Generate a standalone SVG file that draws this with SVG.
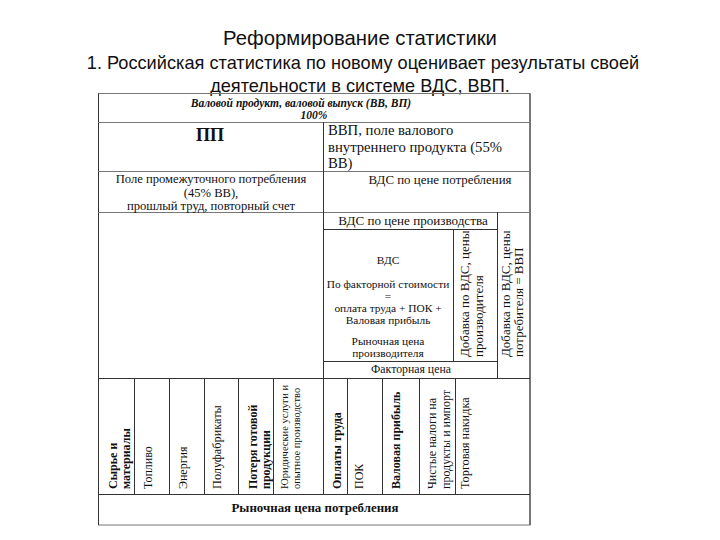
<svg xmlns="http://www.w3.org/2000/svg" width="720" height="540" viewBox="0 0 720 540">
<style>
.t{font-family:"Liberation Sans",Arial,sans-serif;fill:#111}
.s{font-family:"Liberation Serif","Times New Roman",serif;fill:#111}
.b{font-weight:bold}
.i{font-style:italic}
.m{text-anchor:middle}
.h{stroke:#777;stroke-width:1;fill:none}
.v{stroke:#333;stroke-width:1;fill:none}
</style>
<rect width="720" height="540" fill="#fff"/>
<g id="title">
<text class="t m" x="360" y="45" font-size="20.3">Реформирование статистики</text>
<text class="t m" x="363" y="69" font-size="18.2">1. Российская статистика по новому оценивает результаты своей</text>
<text class="t m" x="360" y="92" font-size="18.2">деятельности в системе ВДС, ВВП.</text>
</g>
<g id="grid">
<rect x="98.5" y="93.5" width="431.5" height="431.5" class="h"/>
<line x1="98.5" y1="93.5" x2="98.5" y2="525" class="v"/>
<line x1="530" y1="93.5" x2="530" y2="525" class="v"/>
<line x1="98" y1="122.5" x2="530" y2="122.5" class="h"/>
<line x1="98" y1="171.5" x2="530" y2="171.5" class="h"/>
<line x1="98" y1="212.5" x2="530" y2="212.5" class="h"/>
<line x1="323" y1="229.5" x2="497" y2="229.5" class="v"/>
<line x1="323" y1="361.5" x2="497" y2="361.5" class="v"/>
<line x1="98" y1="378.5" x2="530" y2="378.5" class="v"/>
<line x1="98" y1="494.5" x2="530" y2="494.5" class="v"/>
<line x1="323.5" y1="122" x2="323.5" y2="494" class="v"/>
<line x1="497.5" y1="212" x2="497.5" y2="378" class="v"/>
<line x1="453.5" y1="229" x2="453.5" y2="361" class="v"/>
<line x1="134.5" y1="378" x2="134.5" y2="494" class="v"/>
<line x1="169.5" y1="378" x2="169.5" y2="494" class="v"/>
<line x1="204.5" y1="378" x2="204.5" y2="494" class="v"/>
<line x1="238.5" y1="378" x2="238.5" y2="494" class="v"/>
<line x1="273.5" y1="378" x2="273.5" y2="494" class="v"/>
<line x1="347.5" y1="378" x2="347.5" y2="494" class="v"/>
<line x1="382.5" y1="378" x2="382.5" y2="494" class="v"/>
<line x1="419.5" y1="378" x2="419.5" y2="494" class="v"/>
<line x1="455.5" y1="378" x2="455.5" y2="494" class="v"/>
</g>
<g id="header">
<text class="s b i m" x="301" y="107" font-size="11.5">Валовой продукт, валовой выпуск (ВВ, ВП)</text>
<text class="s b i m" x="314" y="119" font-size="11.5">100%</text>
</g>
<g id="pp"><text class="s b m" x="210" y="141" font-size="18">ПП</text></g>
<g id="vvp">
<text class="s" x="328" y="135" font-size="14.7">ВВП, поле валового</text>
<text class="s" x="328" y="152" font-size="14.7">внутреннего продукта (55%</text>
<text class="s" x="328" y="168" font-size="14.7">ВВ)</text>
</g>
<g id="pole">
<text class="s m" x="211" y="183" font-size="12.6">Поле  промежуточного потребления</text>
<text class="s m" x="211" y="196.5" font-size="12.6">(45% ВВ),</text>
<text class="s m" x="211" y="210" font-size="12.6">прошлый труд, повторный счет</text>
</g>
<g id="vds-potr"><text class="s m" x="440" y="184" font-size="12.9">ВДС по цене потребления</text></g>
<g id="vds-proizv"><text class="s m" x="413" y="225" font-size="13.1">ВДС по цене производства</text></g>
<g id="vds">
<text class="s m" x="388" y="264" font-size="11.4">ВДС</text>
<text class="s m" x="388" y="288" font-size="11.4">По факторной стоимости</text>
<text class="s m" x="388" y="300" font-size="11.4">=</text>
<text class="s m" x="388" y="312" font-size="11.4">оплата труда + ПОК +</text>
<text class="s m" x="388" y="324" font-size="11.4">Валовая прибыль</text>
<text class="s m" x="388" y="345" font-size="11.4">Рыночная цена</text>
<text class="s m" x="388" y="357" font-size="11.4">производителя</text>
</g>
<g id="dobavka1">
<text class="s" font-size="13" transform="translate(469,357) rotate(-90)">Добавка по ВДС, цены</text>
<text class="s" font-size="13" transform="translate(483,357) rotate(-90)">производителя</text>
</g>
<g id="dobavka2">
<text class="s" font-size="13" transform="translate(510,357) rotate(-90)">Добавка по ВДС, цены</text>
<text class="s" font-size="13" transform="translate(523,357) rotate(-90)">потребителя = ВВП</text>
</g>
<g id="faktor"><text class="s m" x="411" y="373" font-size="11.8">Факторная цена</text></g>
<g id="c1"><text class="s b" font-size="12" transform="translate(117,489) rotate(-90)">Сырье и</text><text class="s b" font-size="12" transform="translate(130,489) rotate(-90)">материалы</text></g>
<g id="c2"><text class="s" font-size="12" transform="translate(152,489) rotate(-90)">Топливо</text></g>
<g id="c3"><text class="s" font-size="12" transform="translate(187,489) rotate(-90)">Энергия</text></g>
<g id="c4"><text class="s" font-size="12.3" transform="translate(221,489) rotate(-90)">Полуфабрикаты</text></g>
<g id="c5"><text class="s b" font-size="12" transform="translate(257,489) rotate(-90)">Потеря готовой</text><text class="s b" font-size="12" transform="translate(270,489) rotate(-90)">продукции</text></g>
<g id="c6"><text class="s" font-size="10.5" transform="translate(288,489) rotate(-90)">Юридические услуги и</text><text class="s" font-size="10.5" transform="translate(300,489) rotate(-90)">опытное производство</text></g>
<g id="c7"><text class="s b" font-size="12" transform="translate(341,489) rotate(-90)">Оплаты труда</text></g>
<g id="c8"><text class="s" font-size="12" transform="translate(363,489) rotate(-90)">ПОК</text></g>
<g id="c9"><text class="s b" font-size="12" transform="translate(400,489) rotate(-90)">Валовая прибыль</text></g>
<g id="c10"><text class="s" font-size="12" transform="translate(436,489) rotate(-90)">Чистые налоги на</text><text class="s" font-size="12" transform="translate(450,489) rotate(-90)">продукты и импорт</text></g>
<g id="c11"><text class="s" font-size="12.3" transform="translate(469,489) rotate(-90)">Торговая накидка</text></g>
<g id="rynochnaya"><text class="s b m" x="315" y="512" font-size="12.9">Рыночная цена потребления</text></g>
</svg>
